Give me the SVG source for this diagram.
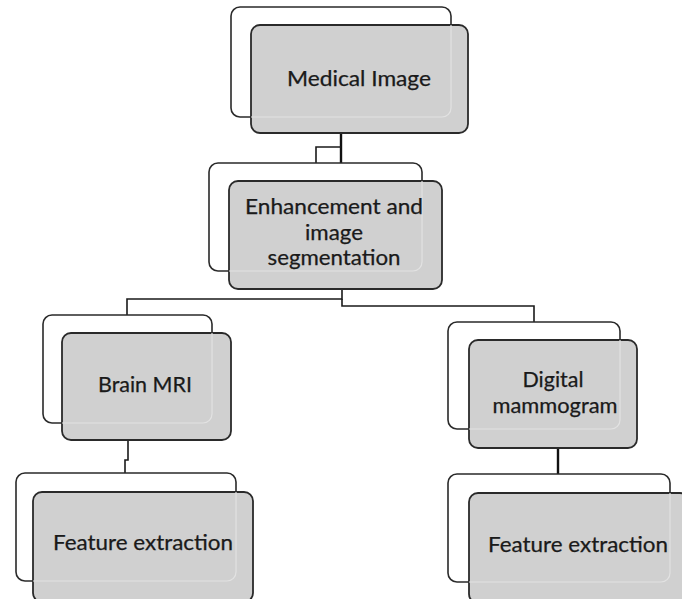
<svg xmlns="http://www.w3.org/2000/svg" width="682" height="599" viewBox="0 0 682 599">
<style>
.back{fill:#ffffff;stroke:#2a2a2a;stroke-width:1.6}
.front{fill:#d0d0d0;stroke:#2a2a2a;stroke-width:1.8}
.ghost{fill:none;stroke:#e2e2e2;stroke-width:1.2}
.lbl{font-family:Lato,"Open Sans","Liberation Sans",sans-serif;font-size:20.5px;fill:#1a1a1a;text-anchor:middle;stroke:#1a1a1a;stroke-width:0.25}
.conn{fill:none;stroke:#1a1a1a;stroke-width:1.6}
.thick{fill:none;stroke:#111;stroke-width:2.4}
</style>
<defs>
<clipPath id="c1"><rect x="251" y="25" width="217" height="108" rx="9"/></clipPath>
<clipPath id="c2"><rect x="229" y="181" width="213" height="108" rx="9"/></clipPath>
<clipPath id="c3"><rect x="62" y="333" width="169" height="107" rx="9"/></clipPath>
<clipPath id="c4"><rect x="469" y="340" width="168" height="108" rx="9"/></clipPath>
<clipPath id="c5"><rect x="33" y="492" width="220" height="110" rx="9"/></clipPath>
<clipPath id="c6"><rect x="469" y="493" width="220" height="110" rx="9"/></clipPath>
</defs>
<g id="connectors">
<path class="thick" d="M341,118 V163"/>
<path class="conn" d="M316,163 V147 H341"/>
<path class="conn" d="M342,289 V299 H127 V315"/>
<path class="conn" d="M342,299 V306 H534 V322"/>
<path class="conn" d="M128,440 V460 H125 V473"/>
<path class="thick" d="M558,448 V474"/>
</g>
<g id="medical-image">
<rect class="back" x="231" y="7" width="220" height="110" rx="9"/>
<rect class="front" x="251" y="25" width="217" height="108" rx="9"/>
<rect class="ghost" x="231" y="7" width="220" height="110" rx="9" clip-path="url(#c1)"/>
<text class="lbl" x="359" y="86" textLength="144" lengthAdjust="spacingAndGlyphs">Medical Image</text>
</g>
<g id="enhancement">
<rect class="back" x="209" y="163" width="213" height="108" rx="9"/>
<rect class="front" x="229" y="181" width="213" height="108" rx="9"/>
<rect class="ghost" x="209" y="163" width="213" height="108" rx="9" clip-path="url(#c2)"/>
<text class="lbl" x="334" y="214" textLength="178" lengthAdjust="spacingAndGlyphs">Enhancement and</text>
<text class="lbl" x="334" y="240" textLength="58" lengthAdjust="spacingAndGlyphs">image</text>
<text class="lbl" x="334" y="265" textLength="133" lengthAdjust="spacingAndGlyphs">segmentation</text>
</g>
<g id="brain-mri">
<rect class="back" x="43" y="315" width="169" height="108" rx="9"/>
<rect class="front" x="62" y="333" width="169" height="107" rx="9"/>
<rect class="ghost" x="43" y="315" width="169" height="108" rx="9" clip-path="url(#c3)"/>
<text class="lbl" x="145" y="392" textLength="94" lengthAdjust="spacingAndGlyphs">Brain MRI</text>
</g>
<g id="digital-mammogram">
<rect class="back" x="448" y="322" width="172" height="107" rx="9"/>
<rect class="front" x="469" y="340" width="168" height="108" rx="9"/>
<rect class="ghost" x="448" y="322" width="172" height="107" rx="9" clip-path="url(#c4)"/>
<text class="lbl" x="553" y="387" textLength="61" lengthAdjust="spacingAndGlyphs">Digital</text>
<text class="lbl" x="555" y="413" textLength="125" lengthAdjust="spacingAndGlyphs">mammogram</text>
</g>
<g id="feature-extraction-left">
<rect class="back" x="16" y="473" width="220" height="108" rx="9"/>
<rect class="front" x="33" y="492" width="220" height="110" rx="9"/>
<rect class="ghost" x="16" y="473" width="220" height="108" rx="9" clip-path="url(#c5)"/>
<text class="lbl" x="143" y="550" textLength="180" lengthAdjust="spacingAndGlyphs">Feature extraction</text>
</g>
<g id="feature-extraction-right">
<rect class="back" x="448" y="474" width="222" height="108" rx="9"/>
<rect class="front" x="469" y="493" width="220" height="110" rx="9"/>
<rect class="ghost" x="448" y="474" width="222" height="108" rx="9" clip-path="url(#c6)"/>
<text class="lbl" x="578" y="552" textLength="180" lengthAdjust="spacingAndGlyphs">Feature extraction</text>
</g>
</svg>
